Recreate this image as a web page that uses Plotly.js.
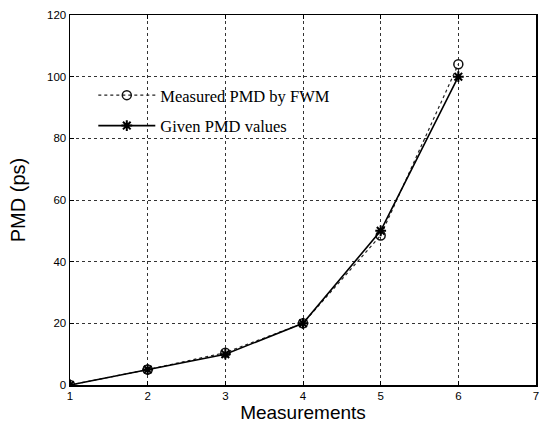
<!DOCTYPE html>
<html>
<head>
<meta charset="utf-8">
<script src="https://cdn.plot.ly/plotly-3.0.1.min.js"></script>
<style>html,body{margin:0;padding:0;background:#fff;}#chart{width:543px;height:427px;}</style>
</head>
<body>
<div id="chart"></div>
<script>
const measurements = [1, 2, 3, 4, 5, 6];
const measuredPMD = [0, 5, 10.5, 20, 48.5, 104];
const givenPMD = [0, 5, 10, 20, 50, 100];
const xTicks = [1, 2, 3, 4, 5, 6, 7];
const yTicks = [0, 20, 40, 60, 80, 100, 120];

const traces = [
  {
    x: measurements, y: measuredPMD, name: 'Measured PMD by FWM',
    mode: 'lines+markers', legendgroup: 'a',
    line: {color: '#222', width: 1.2, dash: 'dot'},
    marker: {symbol: 'circle-open', size: 9, color: '#111', line: {width: 1.5}}
  },
  {
    x: measurements, y: givenPMD, name: 'Given PMD values',
    mode: 'lines+markers', legendgroup: 'b',
    line: {color: '#000', width: 1.6},
    marker: {symbol: 'asterisk-open', size: 9, color: '#000', line: {width: 2}}
  }
];

const gridStyle = {showgrid: true, gridcolor: '#333', griddash: 'dot', gridwidth: 1};

const layout = {
  width: 543, height: 427,
  margin: {l: 70, r: 7, t: 15, b: 42},
  paper_bgcolor: '#fff', plot_bgcolor: '#fff',
  font: {family: 'Liberation Sans, Arial, sans-serif', color: '#000'},
  showlegend: true,
  legend: {
    x: 0.05, y: 0.83, xanchor: 'left', yanchor: 'top',
    bgcolor: 'rgba(0,0,0,0)', borderwidth: 0,
    font: {family: 'Liberation Serif, Times New Roman, serif', size: 16.5, color: '#000'},
    traceorder: 'grouped', tracegroupgap: 6, itemwidth: 57
  },
  xaxis: Object.assign({
    range: [1, 7], tickvals: xTicks, ticktext: xTicks.map(String),
    zeroline: false, showline: true, linecolor: '#000', linewidth: 1.5, mirror: 'ticks',
    ticks: 'inside', ticklen: 4, tickcolor: '#000',
    tickfont: {size: 11.5, family: 'Liberation Sans, Arial, sans-serif'},
    title: {text: 'Measurements', font: {size: 19}, standoff: 4}
  }, gridStyle),
  yaxis: Object.assign({
    range: [0, 120], tickvals: yTicks, ticktext: yTicks.map(String),
    zeroline: false, showline: true, linecolor: '#000', linewidth: 1.5, mirror: 'ticks',
    ticks: 'inside', ticklen: 4, tickcolor: '#000',
    tickfont: {size: 11.5, family: 'Liberation Sans, Arial, sans-serif'},
    title: {text: 'PMD (ps)', font: {size: 20}, standoff: 16}
  }, gridStyle)
};

Plotly.newPlot('chart', traces, layout, {staticPlot: true, displayModeBar: false});
</script>
</body>
</html>
